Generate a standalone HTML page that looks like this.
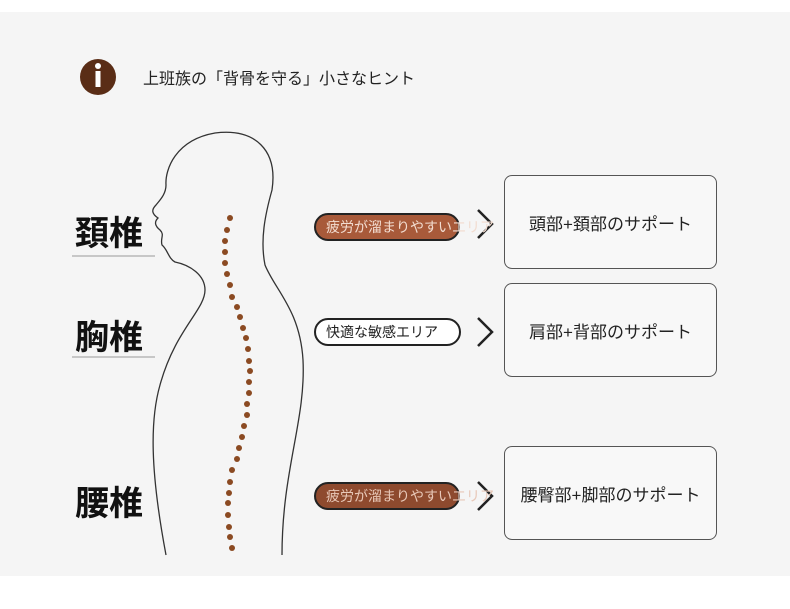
<!DOCTYPE html>
<html><head><meta charset="utf-8"><style>
body{margin:0;width:790px;height:609px;background:#fff;position:relative;overflow:hidden;font-family:"Liberation Sans","Noto Sans CJK JP",sans-serif;}
.bg{position:absolute;left:0;top:12px;width:790px;height:564px;background:#f5f5f5;}
.t{position:absolute;white-space:nowrap;color:#222;}
.pill{position:absolute;height:28px;border:2px solid #222;border-radius:16px;font-size:14px;line-height:24px;box-sizing:border-box;white-space:nowrap;overflow:visible;}
.box{position:absolute;border:1px solid #555;border-radius:8px;background:#f8f8f8;font-size:17px;display:flex;align-items:center;justify-content:center;color:#222;}
.big{font-size:34px;color:#111;font-weight:bold;}
</style></head><body>
<div class="bg"></div>
<svg style="position:absolute;left:0;top:0" width="790" height="609">
<circle cx="98" cy="77" r="18" fill="#5a2d16"/>
<circle cx="98" cy="66" r="3" fill="#fff"/>
<rect x="95.5" y="71" width="5" height="16" fill="#fff"/>
<path d="M166,555 C150,470 150,420 160,385 C175,330 205,310 205,290 C205,275 190,265 175,262 C168,258 168,250 162,245 C160,238 165,235 160,230 C155,226 154,222 158,218 C152,214 151,210 156,205 C160,200 166,194 166,185 C165,170 175,140 215,133 C255,128 278,150 272,190 C265,215 260,240 265,265 C275,290 300,310 303,360 C306,420 282,470 282,555" fill="none" stroke="#333" stroke-width="1.3"/>
<g fill="#8b4a22">
<circle cx="230" cy="218" r="3"/><circle cx="227" cy="230" r="3"/><circle cx="225" cy="241" r="3"/><circle cx="225" cy="252" r="3"/><circle cx="225" cy="263" r="3"/><circle cx="227" cy="274" r="3"/><circle cx="230" cy="285" r="3"/><circle cx="232" cy="297" r="3"/><circle cx="237" cy="307" r="3"/><circle cx="240" cy="317" r="3"/><circle cx="243" cy="328" r="3"/><circle cx="246" cy="338" r="3"/><circle cx="248" cy="349" r="3"/><circle cx="249" cy="361" r="3"/><circle cx="250" cy="371" r="3"/><circle cx="249" cy="382" r="3"/><circle cx="249" cy="393" r="3"/><circle cx="247" cy="404" r="3"/><circle cx="247" cy="415" r="3"/><circle cx="244" cy="426" r="3"/><circle cx="242" cy="437" r="3"/><circle cx="239" cy="448" r="3"/><circle cx="237" cy="459" r="3"/><circle cx="232" cy="470" r="3"/><circle cx="230" cy="482" r="3"/><circle cx="229" cy="493" r="3"/><circle cx="228" cy="503" r="3"/><circle cx="228" cy="515" r="3"/><circle cx="229" cy="527" r="3"/><circle cx="230" cy="537" r="3"/><circle cx="232" cy="548" r="3"/>
</g>
<line x1="72" y1="256" x2="155" y2="256" stroke="#999"/>
<line x1="72" y1="357" x2="155" y2="357" stroke="#999"/>
<g fill="none" stroke="#222" stroke-width="2.5">
<path d="M478,210 L492,224 L478,238"/>
<path d="M478,318 L492,332 L478,346"/>
<path d="M478,482 L492,496 L478,510"/>
</g>
</svg>
<div class="t" style="left:143px;top:65px;font-size:16px;">上班族の「背骨を守る」小さなヒント</div>
<div class="t big" style="left:75px;top:206px;">頚椎</div>
<div class="t big" style="left:75px;top:310px;">胸椎</div>
<div class="t big" style="left:75px;top:476px;">腰椎</div>
<div class="pill" style="left:314px;top:213px;width:146px;background:#a85a3a;color:#f2dcd0;padding-left:10px;">疲労が溜まりやすいエリア</div>
<div class="pill" style="left:314px;top:318px;width:147px;background:#fff;color:#222;padding-left:10px;">快適な敏感エリア</div>
<div class="pill" style="left:314px;top:482px;width:146px;background:#8e4a2e;color:#e8c8b8;padding-left:10px;">疲労が溜まりやすいエリア</div>
<div class="box" style="left:504px;top:175px;width:211px;height:92px;">頭部+頚部のサポート</div>
<div class="box" style="left:504px;top:283px;width:211px;height:92px;">肩部+背部のサポート</div>
<div class="box" style="left:504px;top:446px;width:211px;height:92px;">腰臀部+脚部のサポート</div>
</body></html>
